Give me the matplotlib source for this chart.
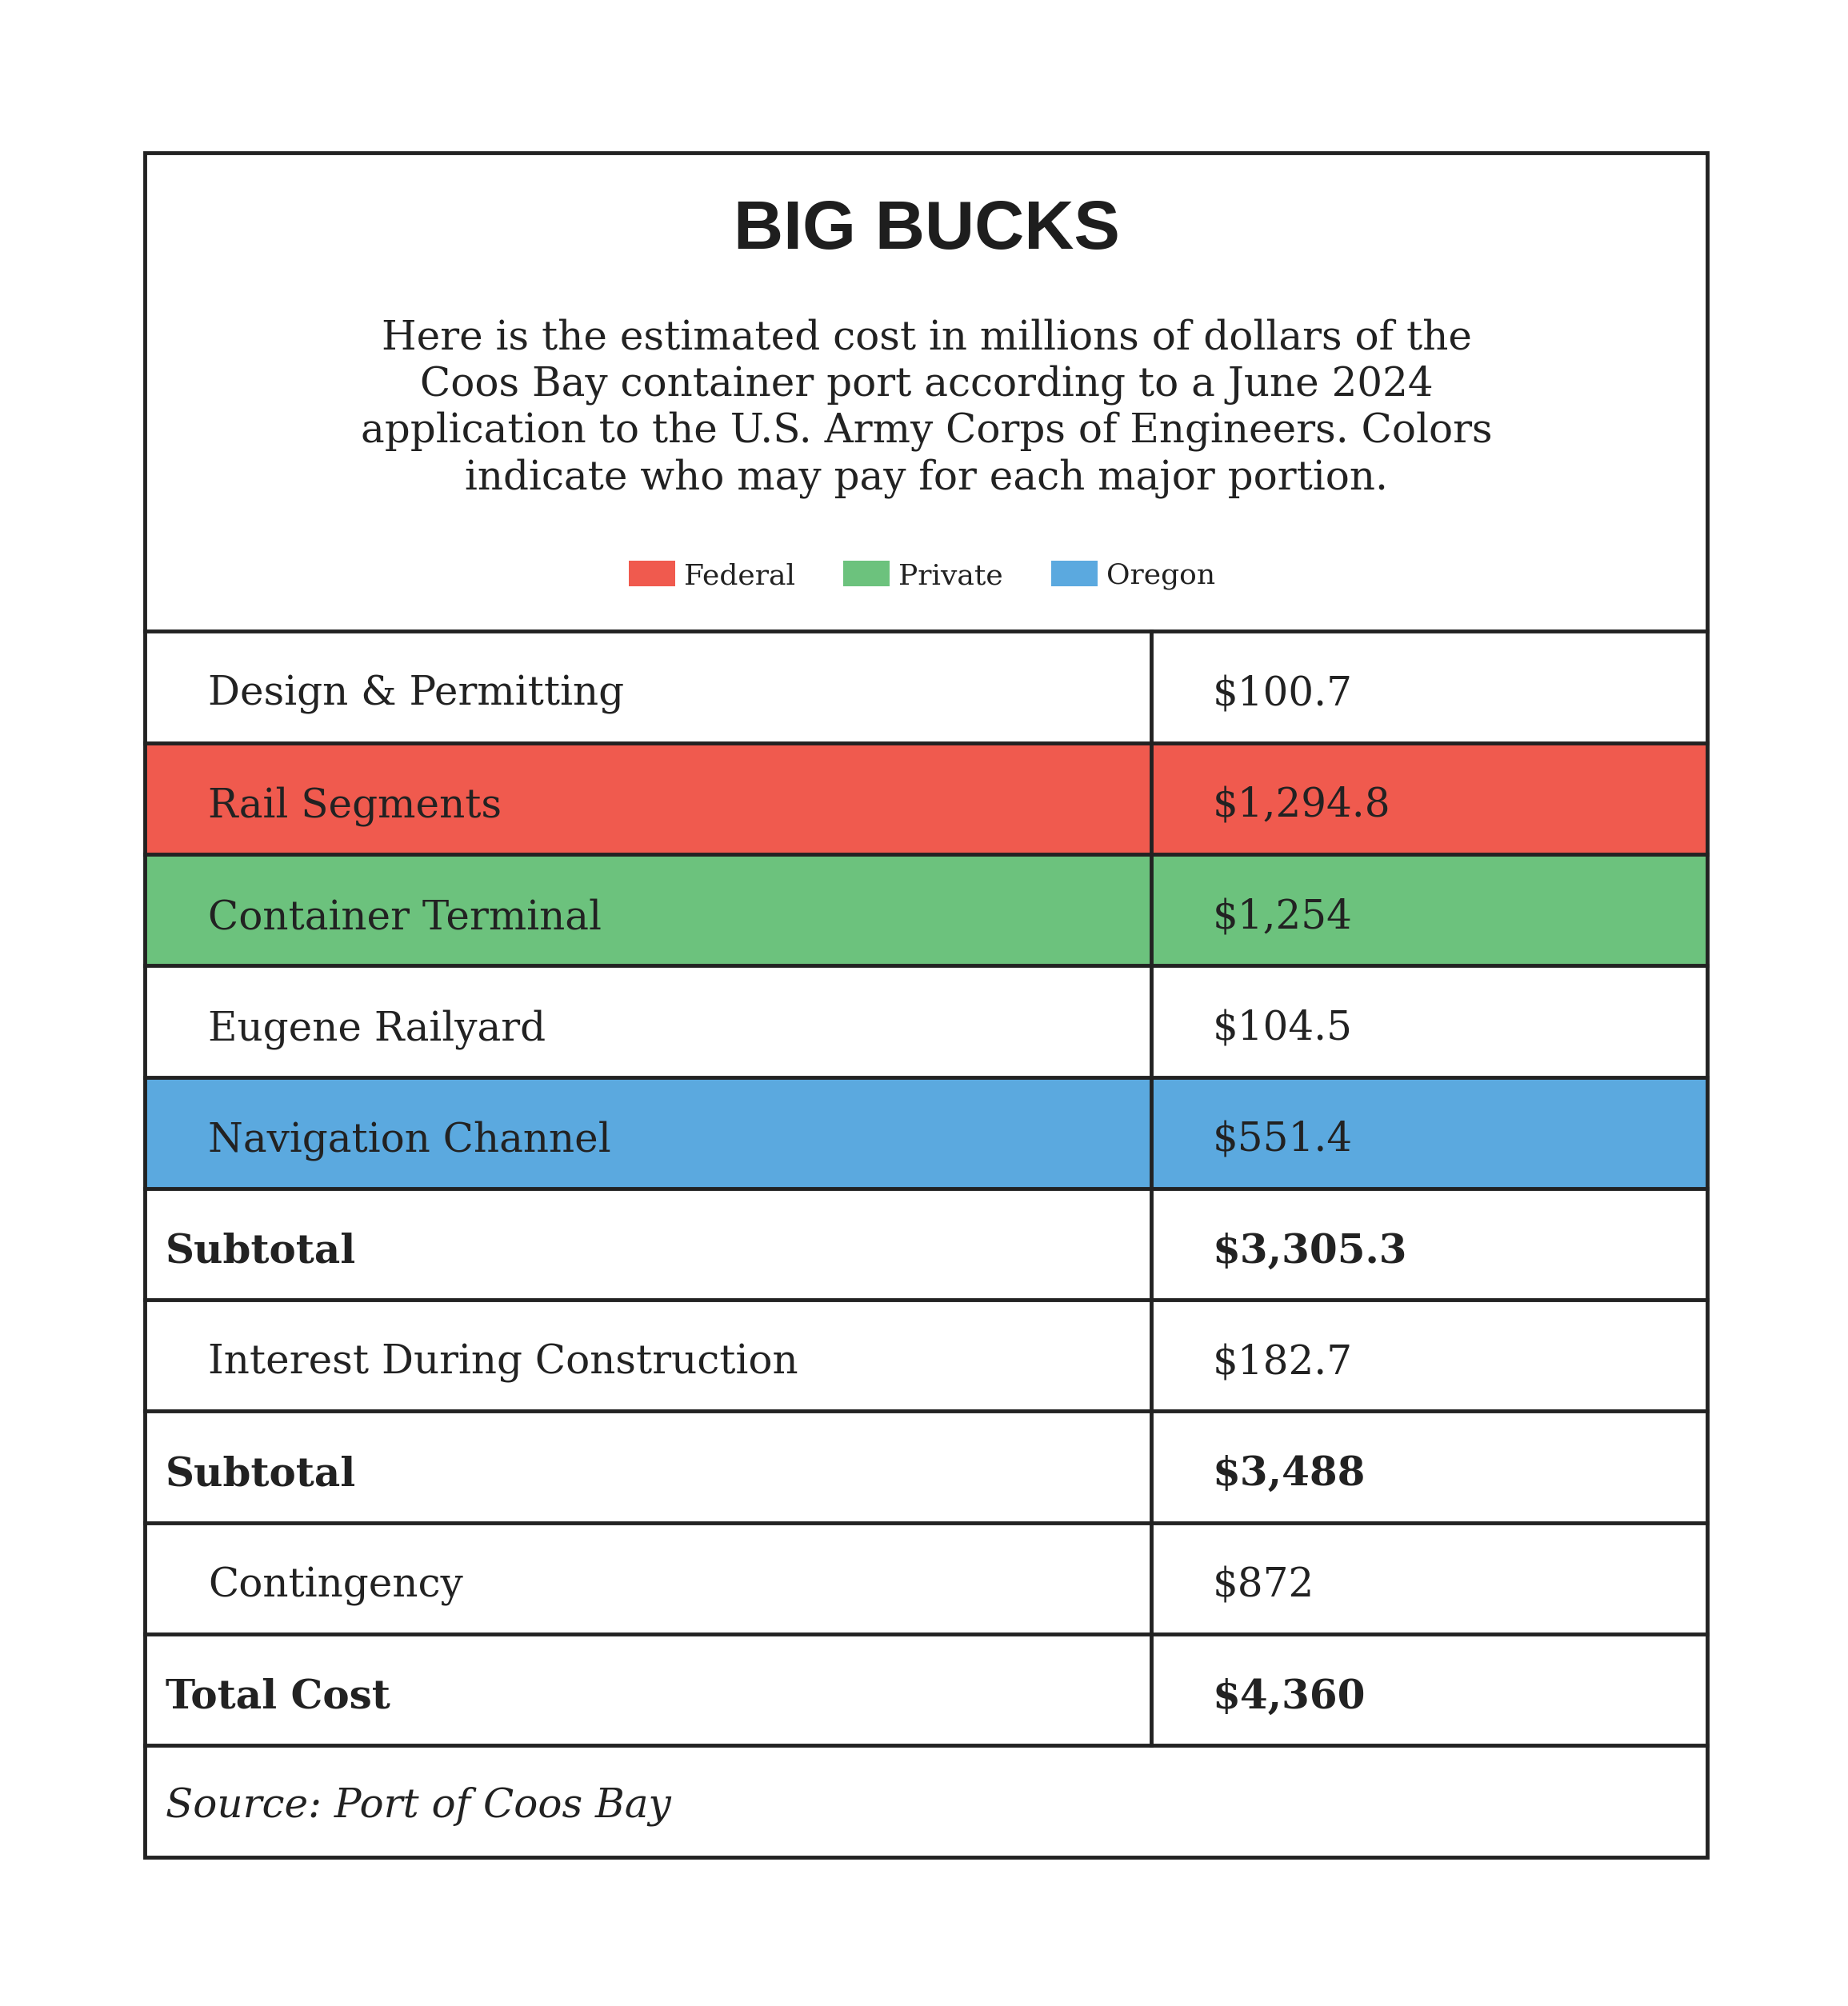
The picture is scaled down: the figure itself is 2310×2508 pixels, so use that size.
import matplotlib.pyplot as plt
from matplotlib.patches import Rectangle

labels = ["Design & Permitting", "Rail Segments", "Container Terminal", "Eugene Railyard",
          "Navigation Channel", "Subtotal", "Interest During Construction", "Subtotal",
          "Contingency", "Total Cost"]
values = ["$100.7", "$1,294.8", "$1,254", "$104.5", "$551.4", "$3,305.3", "$182.7",
          "$3,488", "$872", "$4,360"]
payer = [None, "Federal", "Private", None, "Oregon", None, None, None, None, None]
bold = [False, False, False, False, False, True, False, True, False, True]
legend_names = ["Federal", "Private", "Oregon"]
colors = {"Federal": "#F05A4E", "Private": "#6CC27D", "Oregon": "#5BA9DF"}

serif = "DejaVu Serif"
fig = plt.figure(figsize=(23.1, 25.08), dpi=100)
ax = fig.add_axes([0, 0, 1, 1])
ax.set_xlim(0, 1440)
ax.set_ylim(1563, 0)
ax.axis("off")

L, R, T, B = 113, 1330, 119, 1447
split = 897
top = 492
rh = 86.8
lw = 3.5

ax.text(722, 180, "BIG BUCKS", ha="center", va="center", fontsize=62,
        fontweight="heavy", family="Liberation Sans", color="#1e1e1e")
sub = ("Here is the estimated cost in millions of dollars of the\n"
       "Coos Bay container port according to a June 2024\n"
       "application to the U.S. Army Corps of Engineers. Colors\n"
       "indicate who may pay for each major portion.")
ax.text(722, 318, sub, ha="center", va="center", fontsize=36, family=serif,
        linespacing=1.22, color="#222222")

lx = [490, 657, 819]
for x, name in zip(lx, legend_names):
    ax.add_patch(Rectangle((x, 437), 36, 20, color=colors[name], lw=0))
    ax.text(x + 43, 449, name, va="center", fontsize=26, family=serif, color="#222222")

for i, (lab, val) in enumerate(zip(labels, values)):
    y0 = top + i * rh
    if payer[i]:
        ax.add_patch(Rectangle((L, y0), R - L, rh, color=colors[payer[i]], lw=0))
    ax.plot([L, R], [y0, y0], color="#222222", lw=lw)
    ax.plot([split, split], [y0, y0 + rh], color="#222222", lw=lw)
    x = 129 if bold[i] else 162
    w = "bold" if bold[i] else "normal"
    ax.text(x, y0 + rh / 2 + 6, lab, va="center", fontsize=36, family=serif,
            fontweight=w, color="#222222")
    ax.text(945, y0 + rh / 2 + 6, val, va="center", fontsize=36, family=serif,
            fontweight=w, color="#222222")

y_src = top + len(labels) * rh
ax.plot([L, R], [y_src, y_src], color="#222222", lw=lw)
ax.text(129, (y_src + B) / 2 + 4, "Source: Port of Coos Bay", va="center", fontsize=36,
        family=serif, style="italic", color="#222222")
ax.add_patch(Rectangle((L, T), R - L, B - T, fill=False, ec="#222222", lw=lw))

fig.savefig("out.png", dpi=100, facecolor="white")
